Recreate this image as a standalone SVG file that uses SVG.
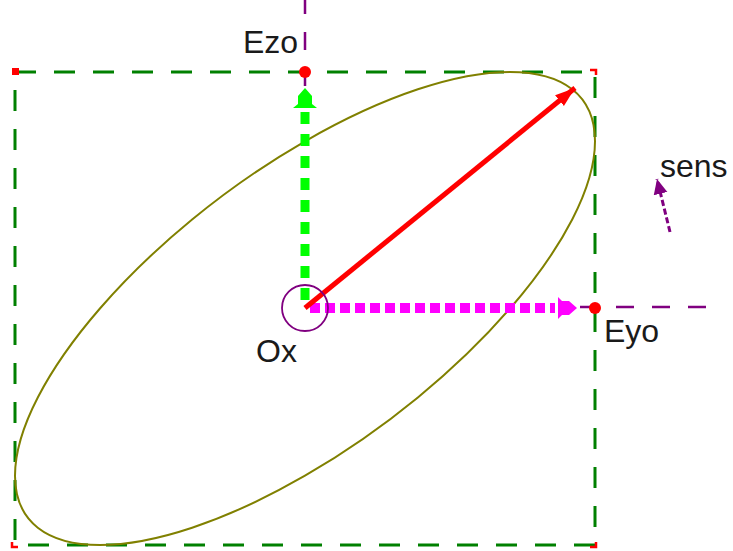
<svg xmlns="http://www.w3.org/2000/svg" width="733" height="551" viewBox="0 0 733 551">
<style>
.lbl{font-family:"Liberation Sans",Arial,sans-serif;font-size:32px;fill:#1a1a1a}
.axis{stroke:#800080;stroke-width:2.5;fill:none;stroke-dasharray:18 18}
.box{stroke:#008000;stroke-width:3;fill:none;stroke-dasharray:21 18}
.dot{fill:#ff0000}
.corner{fill:none;stroke:#ff0000;stroke-width:2.5}
</style>
<defs>
<marker id="hRed" markerUnits="userSpaceOnUse" markerWidth="24" markerHeight="20" refX="20" refY="10" orient="auto"><path d="M0,3 L20,10 L0,17 Z" fill="#ff0000"/></marker>
<marker id="hSens" markerUnits="userSpaceOnUse" markerWidth="18" markerHeight="16" refX="15" refY="8" orient="auto"><path d="M0,1 L15,8 L0,15 Z" fill="#800080"/></marker>
</defs>
<rect width="733" height="551" fill="#ffffff"/>
<g id="frame">
<rect class="box" x="15" y="72" width="580" height="473"/>
<rect x="12" y="68" width="7" height="7" fill="#ff0000"/>
<path class="corner" d="M590,70 h6 v5 M596,542 v5 h-6 M12,542 v5 h6"/>
</g>
<g id="ellipse">
<path d="M595,141.27 C595,48.91 465.17,48.91 305,141.27 C144.83,233.63 15,383.37 15,475.73 C15,568.09 144.83,568.09 305,475.73 C465.17,383.37 595,233.63 595,141.27 Z" fill="none" stroke="#808000" stroke-width="2"/>
</g>
<g id="connectors">
<line class="axis" x1="305" y1="-4" x2="305" y2="90"/>
<line class="axis" x1="575" y1="307" x2="722" y2="307" stroke-dasharray="18 20" stroke-dashoffset="-5"/>
<line x1="305" y1="300" x2="305" y2="108" stroke="#00ff00" stroke-width="9" stroke-dasharray="12 10"/>
<path d="M305,88 L312,96 L312,104 L317,108 L293,108 L298,104 L298,96 Z" fill="#00ff00"/>
<line x1="310" y1="308" x2="555" y2="308" stroke="#ff00ff" stroke-width="10" stroke-dasharray="10 5"/>
<path d="M577,308 L569,301 L562,301 L558,297 L558,319 L562,315 L569,315 Z" fill="#ff00ff"/>
<line x1="305" y1="308" x2="575" y2="88" stroke="#ff0000" stroke-width="5" marker-end="url(#hRed)"/>
<line x1="670" y1="232" x2="657" y2="179" stroke="#800080" stroke-width="3" stroke-dasharray="6 3" marker-end="url(#hSens)"/>
</g>
<g id="Ox">
<circle cx="305" cy="308" r="23" fill="none" stroke="#800080" stroke-width="1.8"/>
<text class="lbl" x="256" y="362">Ox</text>
</g>
<g id="Ezo">
<circle class="dot" cx="305" cy="72" r="6"/>
<text class="lbl" x="243" y="53">Ezo</text>
</g>
<g id="Eyo">
<circle class="dot" cx="595" cy="308" r="6"/>
<text class="lbl" x="604" y="342">Eyo</text>
</g>
<g id="sens">
<text class="lbl" x="660" y="177">sens</text>
</g>
</svg>
